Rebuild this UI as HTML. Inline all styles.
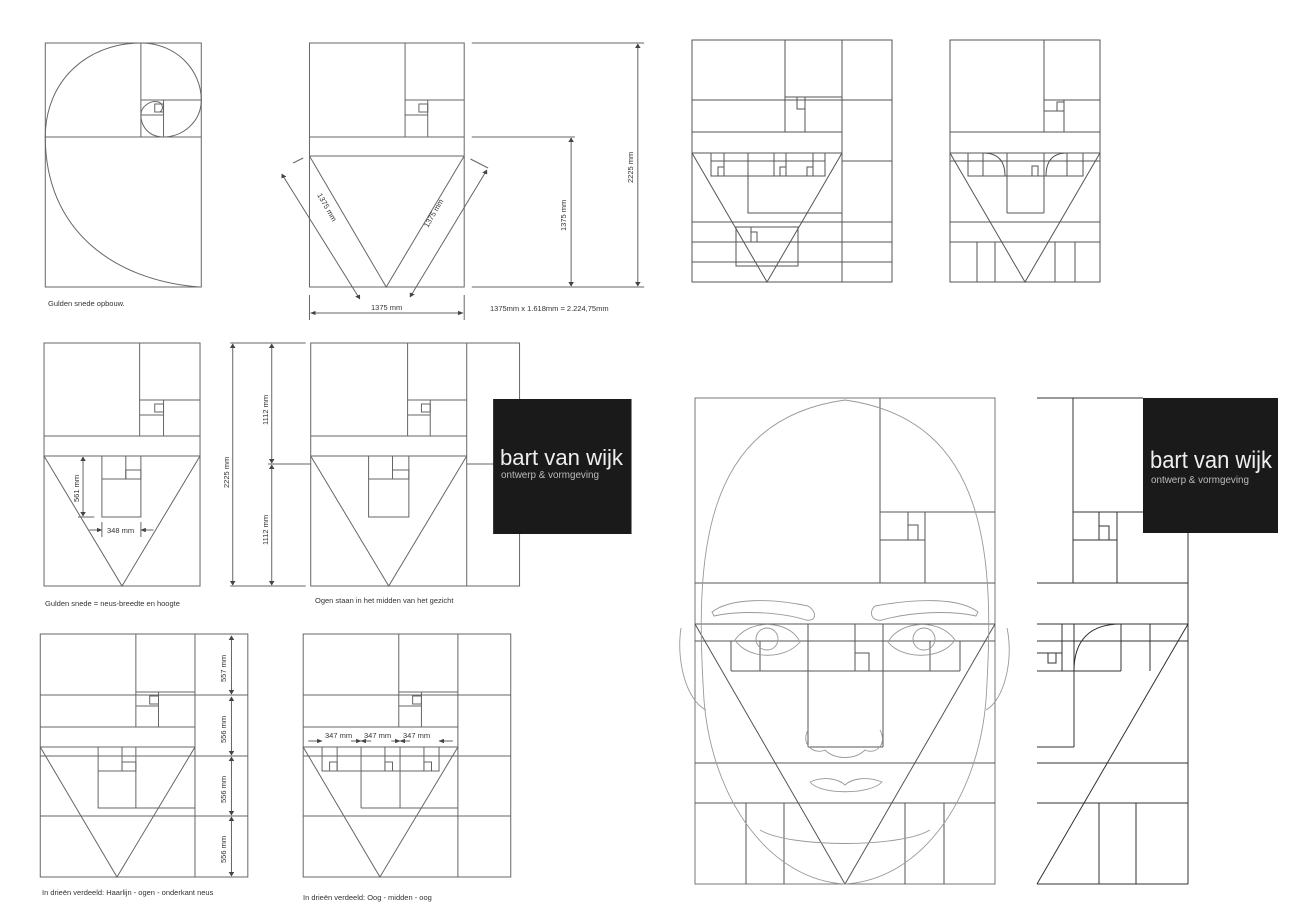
<!DOCTYPE html>
<html><head><meta charset="utf-8"><style>
html,body{margin:0;padding:0;background:#fff;}
svg{display:block;}
text{font-family:"Liberation Sans",sans-serif;fill:#333;}
.L *{vector-effect:non-scaling-stroke;}
</style></head><body>
<svg width="1300" height="919" viewBox="0 0 1300 919" xmlns="http://www.w3.org/2000/svg">
<defs>
<marker id="a" viewBox="0 0 10 10" refX="9" refY="5" markerWidth="5" markerHeight="5" orient="auto-start-reverse"><path d="M0,0L10,5L0,10z" fill="#444"/></marker>
</defs>
<g class="L" transform="scale(1.258,1)">
<g fill="none" stroke="#666" stroke-width="1">
<!-- Panel 1 -->
<rect x="36" y="43" width="124" height="244"/>
<line x1="36" y1="137" x2="160" y2="137"/>
<line x1="112" y1="43" x2="112" y2="137"/>
<line x1="112" y1="100" x2="160" y2="100"/>
<line x1="130" y1="100" x2="130" y2="137"/>
<line x1="112" y1="115" x2="130" y2="115"/>
<rect x="123" y="104" width="7" height="8"/>
<path d="M158,287 C90,280 36,230 36,137 C36,80 70,43 112,43 C140,43 160,70 160,100 C160,122 145,137 130,137 C118,137 112,126 112,115 C112,106 120,100 126,102 C130,104 130,110 127,112"/>
<!-- Panel 2 -->
<rect x="246" y="43" width="123" height="244"/>
<line x1="246" y1="137" x2="369" y2="137"/>
<line x1="246" y1="156" x2="369" y2="156"/>
<line x1="322" y1="43" x2="322" y2="137"/>
<line x1="322" y1="100" x2="369" y2="100"/>
<line x1="340" y1="100" x2="340" y2="137"/>
<line x1="322" y1="115" x2="340" y2="115"/>
<rect x="333" y="104" width="7" height="8"/>
<path d="M246,156 L307,287 L369,156"/>
<line x1="233" y1="163" x2="241" y2="158"/>
<line x1="224" y1="174" x2="286" y2="299" marker-start="url(#a)" marker-end="url(#a)"/>
<line x1="374" y1="159" x2="388" y2="168"/>
<line x1="387" y1="170" x2="326" y2="297" marker-start="url(#a)" marker-end="url(#a)"/>
<line x1="246" y1="295" x2="246" y2="320"/>
<line x1="369" y1="295" x2="369" y2="320"/>
<line x1="247" y1="313" x2="368" y2="313" marker-start="url(#a)" marker-end="url(#a)"/>
<line x1="375" y1="43" x2="512" y2="43"/>
<line x1="375" y1="137" x2="457" y2="137"/>
<line x1="375" y1="287" x2="512" y2="287"/>
<line x1="507" y1="44" x2="507" y2="286" marker-start="url(#a)" marker-end="url(#a)"/>
<line x1="454" y1="138" x2="454" y2="286" marker-start="url(#a)" marker-end="url(#a)"/>
<!-- Panel 3 -->
<rect x="35" y="343" width="124" height="243"/>
<line x1="35" y1="436" x2="159" y2="436"/>
<line x1="35" y1="456" x2="159" y2="456"/>
<line x1="111" y1="343" x2="111" y2="436"/>
<line x1="111" y1="400" x2="159" y2="400"/>
<line x1="130" y1="400" x2="130" y2="436"/>
<line x1="111" y1="415" x2="130" y2="415"/>
<rect x="123" y="404" width="7" height="8"/>
<path d="M35,456 L97,586 L159,456"/>
<rect x="81" y="456" width="31" height="61"/>
<line x1="100" y1="456" x2="100" y2="479"/>
<line x1="81" y1="479" x2="112" y2="479"/>
<rect x="100" y="470" width="12" height="9"/>
<line x1="66" y1="457" x2="66" y2="516" marker-start="url(#a)" marker-end="url(#a)"/>
<line x1="62" y1="517" x2="75" y2="517"/>
<line x1="71" y1="530" x2="81" y2="530" marker-end="url(#a)"/>
<line x1="122" y1="530" x2="112" y2="530" marker-end="url(#a)"/>
<line x1="81" y1="522" x2="81" y2="537"/>
<line x1="112" y1="522" x2="112" y2="537"/>
<!-- middle dims -->
<line x1="183" y1="343" x2="243" y2="343"/>
<line x1="183" y1="586" x2="243" y2="586"/>
<line x1="185" y1="344" x2="185" y2="585" marker-start="url(#a)" marker-end="url(#a)"/>
<line x1="216" y1="344" x2="216" y2="463" marker-start="url(#a)" marker-end="url(#a)"/>
<line x1="216" y1="465" x2="216" y2="585" marker-start="url(#a)" marker-end="url(#a)"/>
<line x1="213" y1="464" x2="247" y2="464"/>
<!-- Panel 4 -->
<rect x="247" y="343" width="166" height="243"/>
<line x1="371" y1="343" x2="371" y2="586"/>
<line x1="247" y1="436" x2="371" y2="436"/>
<line x1="247" y1="456" x2="371" y2="456"/>
<line x1="324" y1="343" x2="324" y2="436"/>
<line x1="324" y1="400" x2="371" y2="400"/>
<line x1="342" y1="400" x2="342" y2="436"/>
<line x1="324" y1="415" x2="342" y2="415"/>
<rect x="335" y="404" width="7" height="8"/>
<path d="M247,456 L309,586 L371,456"/>
<rect x="293" y="456" width="32" height="61"/>
<line x1="312" y1="456" x2="312" y2="479"/>
<line x1="293" y1="479" x2="325" y2="479"/>
<rect x="312" y="470" width="13" height="9"/>
<line x1="371" y1="464" x2="396" y2="464"/>
<!-- Panel 5 -->
<rect x="32" y="634" width="165" height="243"/>
<line x1="155" y1="634" x2="155" y2="877"/>
<line x1="32" y1="695" x2="197" y2="695"/>
<line x1="32" y1="727" x2="155" y2="727"/>
<line x1="32" y1="747" x2="155" y2="747"/>
<line x1="32" y1="756" x2="197" y2="756"/>
<line x1="32" y1="816" x2="197" y2="816"/>
<line x1="108" y1="634" x2="108" y2="727"/>
<line x1="108" y1="692" x2="155" y2="692"/>
<line x1="126" y1="692" x2="126" y2="727"/>
<line x1="108" y1="706" x2="126" y2="706"/>
<rect x="119" y="696" width="7" height="8"/>
<path d="M32,747 L93,877 L155,747"/>
<rect x="78" y="747" width="30" height="61"/>
<line x1="108" y1="808" x2="155" y2="808"/>
<line x1="97" y1="747" x2="97" y2="771"/>
<line x1="78" y1="771" x2="108" y2="771"/>
<rect x="97" y="762" width="11" height="9"/>
<line x1="184" y1="636" x2="184" y2="694" marker-start="url(#a)" marker-end="url(#a)"/>
<line x1="184" y1="697" x2="184" y2="755" marker-start="url(#a)" marker-end="url(#a)"/>
<line x1="184" y1="757" x2="184" y2="815" marker-start="url(#a)" marker-end="url(#a)"/>
<line x1="184" y1="817" x2="184" y2="876" marker-start="url(#a)" marker-end="url(#a)"/>
<!-- Panel 6 -->
<rect x="241" y="634" width="165" height="243"/>
<line x1="364" y1="634" x2="364" y2="877"/>
<line x1="241" y1="695" x2="406" y2="695"/>
<line x1="241" y1="727" x2="364" y2="727"/>
<line x1="241" y1="747" x2="364" y2="747"/>
<line x1="241" y1="756" x2="406" y2="756"/>
<line x1="241" y1="816" x2="406" y2="816"/>
<line x1="317" y1="634" x2="317" y2="727"/>
<line x1="317" y1="692" x2="364" y2="692"/>
<line x1="335" y1="692" x2="335" y2="727"/>
<line x1="317" y1="706" x2="335" y2="706"/>
<rect x="328" y="696" width="7" height="8"/>
<path d="M241,747 L302,877 L364,747"/>
<rect x="256" y="747" width="93" height="24"/>
<line x1="268" y1="747" x2="268" y2="771"/><line x1="287" y1="747" x2="287" y2="808"/>
<line x1="318" y1="747" x2="318" y2="808"/><line x1="337" y1="747" x2="337" y2="771"/>
<line x1="306" y1="747" x2="306" y2="771"/>
<line x1="287" y1="808" x2="364" y2="808"/>
<rect x="262" y="762" width="6" height="9"/><rect x="306" y="762" width="6" height="9"/><rect x="337" y="762" width="6" height="9"/>
<line x1="245" y1="741" x2="256" y2="741" marker-end="url(#a)"/>
<line x1="279" y1="741" x2="287" y2="741" marker-end="url(#a)"/>
<line x1="295" y1="741" x2="287" y2="741" marker-end="url(#a)"/>
<line x1="311" y1="741" x2="318" y2="741" marker-end="url(#a)"/>
<line x1="326" y1="741" x2="318" y2="741" marker-end="url(#a)"/>
<line x1="360" y1="741" x2="349" y2="741" marker-end="url(#a)"/>
</g>
<rect x="392" y="399" width="110" height="135" fill="#1a1a1a"/>
</g>
<text x="500" y="465" textLength="123" lengthAdjust="spacingAndGlyphs" style="fill:#eee;font-size:22px">bart van wijk</text>
<text x="501" y="478" textLength="98" lengthAdjust="spacingAndGlyphs" style="fill:#bbb;font-size:10px">ontwerp &amp; vormgeving</text>

<g fill="none" stroke="#555" stroke-width="1">
<!-- Panel 7 -->
<rect x="692" y="40" width="200" height="242"/>
<line x1="842" y1="40" x2="842" y2="282"/>
<line x1="785" y1="40" x2="785" y2="132"/>
<line x1="692" y1="100" x2="892" y2="100"/>
<line x1="692" y1="132" x2="842" y2="132"/>
<line x1="692" y1="153" x2="842" y2="153"/>
<line x1="842" y1="161" x2="892" y2="161"/>
<line x1="785" y1="97" x2="842" y2="97"/>
<line x1="805" y1="97" x2="805" y2="132"/>
<rect x="797" y="97" width="8" height="12"/>
<path d="M692,153 L767,282 L842,153"/>
<rect x="711" y="153" width="114" height="23"/>
<line x1="724" y1="153" x2="724" y2="176"/><line x1="774" y1="153" x2="774" y2="176"/><line x1="786" y1="153" x2="786" y2="176"/><line x1="813" y1="153" x2="813" y2="176"/>
<line x1="711" y1="161" x2="825" y2="161"/>
<rect x="718" y="167" width="6" height="9"/><rect x="780" y="167" width="6" height="9"/><rect x="807" y="167" width="6" height="9"/>
<rect x="748" y="153" width="94" height="60"/>
<line x1="692" y1="222" x2="892" y2="222"/>
<line x1="692" y1="242" x2="892" y2="242"/>
<line x1="692" y1="262" x2="892" y2="262"/>
<rect x="736" y="227" width="62" height="39"/>
<line x1="751" y1="227" x2="751" y2="242"/>
<rect x="751" y="232" width="6" height="10"/>
<!-- Panel 8 -->
<rect x="950" y="40" width="150" height="242"/>
<line x1="1044" y1="40" x2="1044" y2="132"/>
<line x1="1044" y1="100" x2="1100" y2="100"/>
<line x1="1064" y1="100" x2="1064" y2="132"/>
<line x1="1044" y1="111" x2="1064" y2="111"/>
<rect x="1057" y="102" width="7" height="9"/>
<line x1="950" y1="132" x2="1100" y2="132"/>
<line x1="950" y1="153" x2="1100" y2="153"/>
<line x1="950" y1="161" x2="1100" y2="161"/>
<rect x="968" y="153" width="115" height="23"/>
<line x1="983" y1="153" x2="983" y2="176"/><line x1="1007" y1="153" x2="1007" y2="213"/><line x1="1044" y1="153" x2="1044" y2="213"/><line x1="1067" y1="153" x2="1067" y2="176"/>
<line x1="1007" y1="213" x2="1044" y2="213"/>
<path d="M983,153 Q1005,153 1005,176"/><path d="M1067,153 Q1046,153 1046,176"/>
<rect x="1032" y="166" width="6" height="10"/>
<path d="M950,153 L1025,282 L1100,153"/>
<line x1="950" y1="222" x2="1100" y2="222"/>
<line x1="950" y1="242" x2="1100" y2="242"/>
<line x1="977" y1="242" x2="977" y2="282"/><line x1="995" y1="242" x2="995" y2="282"/>
<line x1="1055" y1="242" x2="1055" y2="282"/><line x1="1075" y1="242" x2="1075" y2="282"/>
<!-- Face frame -->
<rect x="695" y="398" width="300" height="486" stroke="#777"/>
<line x1="880" y1="398" x2="880" y2="583"/>
<line x1="695" y1="583" x2="995" y2="583"/>
<line x1="880" y1="512" x2="995" y2="512"/>
<line x1="925" y1="512" x2="925" y2="583"/>
<line x1="880" y1="540" x2="925" y2="540"/>
<line x1="908" y1="512" x2="908" y2="540"/>
<rect x="908" y="525" width="10" height="15"/>
<line x1="695" y1="624" x2="995" y2="624"/>
<line x1="695" y1="641" x2="995" y2="641"/>
<line x1="731" y1="671" x2="960" y2="671"/>
<line x1="731" y1="641" x2="731" y2="671"/><line x1="960" y1="641" x2="960" y2="671"/>
<line x1="760" y1="641" x2="760" y2="671"/><line x1="930" y1="641" x2="930" y2="671"/>
<line x1="808" y1="624" x2="808" y2="747"/>
<line x1="883" y1="624" x2="883" y2="747"/>
<line x1="855" y1="624" x2="855" y2="671"/>
<rect x="855" y="653" width="14" height="18"/>
<line x1="808" y1="747" x2="883" y2="747"/>
<line x1="695" y1="763" x2="995" y2="763"/>
<line x1="695" y1="803" x2="995" y2="803"/>
<line x1="746" y1="803" x2="746" y2="884"/><line x1="784" y1="803" x2="784" y2="884"/>
<line x1="905" y1="803" x2="905" y2="884"/><line x1="944" y1="803" x2="944" y2="884"/>
<path d="M695,624 L845,884 L995,624"/>
</g>
<!-- face sketch -->
<g fill="none" stroke="#999" stroke-width="0.9">
<path d="M845,884 C770,880 712,800 704,700 C695,560 700,420 845,400 C990,420 995,560 986,700 C978,800 920,880 845,884"/>
<path d="M681,628 C676,660 686,700 706,710"/><path d="M1007,628 C1014,660 1004,700 986,710"/>
<path d="M712,612 C730,598 770,598 808,606 C818,612 816,622 806,620 C780,612 740,610 714,616z"/>
<path d="M978,612 C960,598 920,598 875,606 C868,612 872,622 882,620 C910,612 950,610 976,616z"/>
<path d="M735,640 C750,618 790,620 800,642 C785,660 748,660 735,640z"/>
<circle cx="767" cy="639" r="11"/>
<path d="M888,642 C900,620 940,618 955,640 C942,660 902,660 888,642z"/>
<circle cx="924" cy="639" r="11"/>
<path d="M808,730 C800,745 815,755 825,750 C835,760 855,760 865,750 C875,755 888,745 880,730"/>
<path d="M810,782 C825,775 840,780 845,785 C850,780 865,775 882,782 C870,795 820,795 810,782"/>
<path d="M760,830 C790,848 900,848 930,830"/>
</g>
<!-- Right panel bottom -->
<g fill="none" stroke="#333" stroke-width="1">
<line x1="1037" y1="398" x2="1143" y2="398"/>
<line x1="1073" y1="398" x2="1073" y2="583"/>
<line x1="1073" y1="512" x2="1143" y2="512"/>
<line x1="1117" y1="512" x2="1117" y2="583"/>
<line x1="1073" y1="540" x2="1117" y2="540"/>
<line x1="1099" y1="512" x2="1099" y2="540"/>
<rect x="1099" y="526" width="10" height="14"/>
<line x1="1188" y1="533" x2="1188" y2="884"/>
<line x1="1037" y1="583" x2="1188" y2="583"/>
<line x1="1037" y1="624" x2="1188" y2="624"/>
<line x1="1037" y1="641" x2="1188" y2="641"/>
<line x1="1037" y1="671" x2="1121" y2="671"/>
<line x1="1074" y1="624" x2="1074" y2="747"/>
<line x1="1121" y1="624" x2="1121" y2="671"/>
<line x1="1150" y1="624" x2="1150" y2="671"/>
<line x1="1037" y1="653" x2="1062" y2="653"/>
<line x1="1062" y1="624" x2="1062" y2="671"/>
<rect x="1048" y="653" width="8" height="10"/>
<path d="M1074,671 C1074,640 1090,624 1121,624"/>
<line x1="1037" y1="747" x2="1074" y2="747"/>
<line x1="1037" y1="763" x2="1188" y2="763"/>
<line x1="1037" y1="803" x2="1188" y2="803"/>
<line x1="1099" y1="803" x2="1099" y2="884"/><line x1="1136" y1="803" x2="1136" y2="884"/>
<line x1="1037" y1="884" x2="1188" y2="884"/>
<line x1="1188" y1="624" x2="1037" y2="884"/>
</g>
<rect x="1143" y="398" width="135" height="135" fill="#1a1a1a"/>
<text x="1150" y="468" textLength="122" lengthAdjust="spacingAndGlyphs" style="fill:#eee;font-size:24px">bart van wijk</text>
<text x="1151" y="483" textLength="98" lengthAdjust="spacingAndGlyphs" style="fill:#bbb;font-size:10.5px">ontwerp &amp; vormgeving</text>

<!-- labels -->
<g style="font-size:7.5px">
<text x="48" y="306">Gulden snede opbouw.</text>
<text x="371" y="310">1375 mm</text>
<text x="490" y="311">1375mm x 1.618mm = 2.224,75mm</text>
<text transform="translate(317,195) rotate(60)">1375 mm</text>
<text transform="translate(428,228) rotate(-60)">1375 mm</text>
<text transform="translate(566,231) rotate(-90)">1375 mm</text>
<text transform="translate(633,183) rotate(-90)">2225 mm</text>
<text x="45" y="606">Gulden snede = neus-breedte en hoogte</text>
<text x="107" y="533">348 mm</text>
<text transform="translate(79,502) rotate(-90)">561 mm</text>
<text transform="translate(229,488) rotate(-90)">2225 mm</text>
<text transform="translate(268,425) rotate(-90)">1112 mm</text>
<text transform="translate(268,545) rotate(-90)">1112 mm</text>
<text x="315" y="603">Ogen staan in het midden van het gezicht</text>
<text transform="translate(226,682) rotate(-90)">557 mm</text>
<text transform="translate(226,743) rotate(-90)">556 mm</text>
<text transform="translate(226,803) rotate(-90)">556 mm</text>
<text transform="translate(226,863) rotate(-90)">556 mm</text>
<text x="42" y="895">In drieën verdeeld: Haarlijn - ogen - onderkant neus</text>
<text x="325" y="738">347 mm</text>
<text x="364" y="738">347 mm</text>
<text x="403" y="738">347 mm</text>
<text x="303" y="900">In drieën verdeeld: Oog - midden - oog</text>
</g>
</svg>
</body></html>
